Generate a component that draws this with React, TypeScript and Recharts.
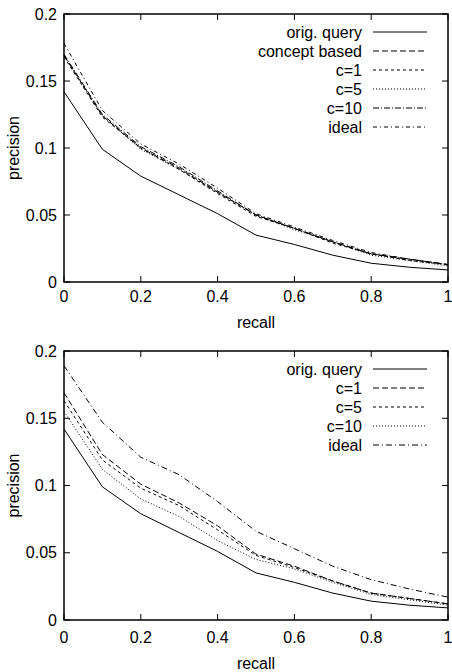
import React from "react";
import { LineChart, Line, XAxis, YAxis, ReferenceArea } from "recharts";

const recall = [0, 0.1, 0.2, 0.3, 0.4, 0.5, 0.6, 0.7, 0.8, 0.9, 1];
const xTicks = [0, 0.2, 0.4, 0.6, 0.8, 1];
const yTicks = [0, 0.05, 0.1, 0.15, 0.2];

// top panel
const origQuery = [0.142, 0.099, 0.079, 0.065, 0.051, 0.035, 0.028, 0.02, 0.014, 0.011, 0.009];
const conceptBased = [0.169, 0.124, 0.1, 0.085, 0.067, 0.05, 0.04, 0.03, 0.021, 0.017, 0.013];
const topC1 = [0.168, 0.123, 0.1, 0.084, 0.066, 0.049, 0.04, 0.029, 0.021, 0.016, 0.013];
const topC5 = [0.169, 0.124, 0.099, 0.084, 0.067, 0.05, 0.039, 0.03, 0.02, 0.016, 0.012];
const topC10 = [0.17, 0.125, 0.101, 0.086, 0.068, 0.05, 0.04, 0.03, 0.021, 0.017, 0.013];
const topIdeal = [0.178, 0.128, 0.103, 0.088, 0.07, 0.051, 0.041, 0.031, 0.022, 0.017, 0.013];

// bottom panel
const bottomC1 = [0.169, 0.123, 0.101, 0.087, 0.07, 0.049, 0.04, 0.029, 0.02, 0.016, 0.012];
const bottomC5 = [0.163, 0.119, 0.098, 0.085, 0.067, 0.048, 0.039, 0.029, 0.02, 0.016, 0.012];
const bottomC10 = [0.155, 0.112, 0.09, 0.077, 0.059, 0.045, 0.038, 0.028, 0.019, 0.015, 0.011];
const bottomIdeal = [0.189, 0.147, 0.121, 0.108, 0.088, 0.066, 0.053, 0.04, 0.03, 0.023, 0.017];

const FONT = "'Liberation Sans', Arial, Helvetica, sans-serif";
const FS = 16;
const W = 452;
const H = 336;
const PLOT_LEFT = 64;
const PLOT_RIGHT = 448;
const TICK = 6;

interface Series {
  key: string;
  name: string;
  values: number[];
  dash?: string;
}

const topSeries: Series[] = [
  { key: "orig", name: "orig. query", values: origQuery },
  { key: "concept", name: "concept based", values: conceptBased, dash: "6 3" },
  { key: "c1", name: "c=1", values: topC1, dash: "3 3" },
  { key: "c5", name: "c=5", values: topC5, dash: "1 2" },
  { key: "c10", name: "c=10", values: topC10, dash: "6 2 1 2" },
  { key: "ideal", name: "ideal", values: topIdeal, dash: "4 3 1 3" },
];

const bottomSeries: Series[] = [
  { key: "orig", name: "orig. query", values: origQuery },
  { key: "c1", name: "c=1", values: bottomC1, dash: "6 3" },
  { key: "c5", name: "c=5", values: bottomC5, dash: "3 3" },
  { key: "c10", name: "c=10", values: bottomC10, dash: "1 2" },
  { key: "ideal", name: "ideal", values: bottomIdeal, dash: "6 3 1 3" },
];

function Panel({
  series,
  top,
  plotTop,
  axisHeight,
  tickOffset,
  xLabelOffset,
}: {
  series: Series[];
  top: number;
  plotTop: number;
  axisHeight: number;
  tickOffset: number;
  xLabelOffset: number;
}) {
  const data = recall.map((r, i) => {
    const row: Record<string, number> = { recall: r };
    series.forEach((s) => (row[s.key] = s.values[i]));
    return row;
  });

  const YTick = (p: any) => (
    <g>
      <text
        x={p.x - 7}
        y={p.y}
        textAnchor="end"
        dominantBaseline="central"
        fontSize={FS}
        fontFamily={FONT}
        fill="#000"
      >
        {String(p.payload.value)}
      </text>
      <line x1={p.x} x2={p.x + TICK} y1={p.y} y2={p.y} stroke="#000" />
      <line x1={PLOT_RIGHT} x2={PLOT_RIGHT - TICK} y1={p.y} y2={p.y} stroke="#000" />
    </g>
  );

  const XTick = (p: any) => (
    <g>
      <text
        x={p.x}
        y={p.y + tickOffset}
        textAnchor="middle"
        dominantBaseline="central"
        fontSize={FS}
        fontFamily={FONT}
        fill="#000"
      >
        {String(p.payload.value)}
      </text>
      <line x1={p.x} x2={p.x} y1={p.y} y2={p.y - TICK} stroke="#000" />
      <line x1={p.x} x2={p.x} y1={plotTop} y2={plotTop + TICK} stroke="#000" />
    </g>
  );

  return (
    <div style={{ position: "absolute", left: 0, top, width: W, height: H }}>
      <LineChart
        width={W}
        height={H}
        data={data}
        margin={{ top: plotTop, right: W - PLOT_RIGHT, left: 0, bottom: 0 }}
      >
        <XAxis
          dataKey="recall"
          type="number"
          domain={[0, 1]}
          ticks={xTicks}
          interval={0}
          height={axisHeight}
          tickSize={0}
          tickMargin={0}
          axisLine={false}
          tick={XTick}
          label={{
            content: (lp: any) => {
              const vb = lp.viewBox;
              return (
                <text
                  x={vb.x + vb.width / 2}
                  y={vb.y + xLabelOffset}
                  textAnchor="middle"
                  dominantBaseline="central"
                  fontSize={FS}
                  fontFamily={FONT}
                  fill="#000"
                >
                  recall
                </text>
              );
            },
          }}
        />
        <YAxis
          type="number"
          domain={[0, 0.2]}
          ticks={yTicks}
          interval={0}
          width={PLOT_LEFT}
          tickSize={0}
          tickMargin={0}
          axisLine={false}
          tick={YTick}
          label={{
            content: (lp: any) => {
              const vb = lp.viewBox;
              const cy = vb.y + vb.height / 2;
              return (
                <text
                  x={13}
                  y={cy}
                  transform={`rotate(-90 13 ${cy})`}
                  textAnchor="middle"
                  dominantBaseline="central"
                  fontSize={FS}
                  fontFamily={FONT}
                  fill="#000"
                >
                  precision
                </text>
              );
            },
          }}
        />
        <ReferenceArea
          x1={0}
          x2={1}
          y1={0}
          y2={0.2}
          fill="none"
          stroke="#000"
          strokeWidth={1.5}
        />
        {series.map((s) => (
          <Line
            key={s.key}
            dataKey={s.key}
            type="linear"
            stroke="#000"
            strokeWidth={1}
            strokeDasharray={s.dash}
            dot={false}
            activeDot={false}
            isAnimationActive={false}
          />
        ))}
      </LineChart>
      <svg
        width={W}
        height={160}
        style={{ position: "absolute", left: 0, top: 0, pointerEvents: "none" }}
      >
        {series.map((s, i) => {
          const y = plotTop + 18 + i * 19;
          return (
            <g key={s.key}>
              <text
                x={362}
                y={y}
                textAnchor="end"
                dominantBaseline="central"
                fontSize={FS}
                fontFamily={FONT}
                fill="#000"
              >
                {s.name}
              </text>
              <line
                x1={373}
                x2={427}
                y1={y}
                y2={y}
                stroke="#000"
                strokeWidth={1}
                strokeDasharray={s.dash}
              />
            </g>
          );
        })}
      </svg>
    </div>
  );
}

export default function App() {
  return (
    <div
      style={{
        position: "absolute",
        left: 0,
        top: 0,
        width: W,
        height: 672,
        background: "#fff",
        fontFamily: FONT,
      }}
    >
      <Panel
        series={topSeries}
        top={0}
        plotTop={14}
        axisHeight={54}
        tickOffset={14}
        xLabelOffset={40}
      />
      <Panel
        series={bottomSeries}
        top={336}
        plotTop={15}
        axisHeight={52}
        tickOffset={17}
        xLabelOffset={43}
      />
    </div>
  );
}
